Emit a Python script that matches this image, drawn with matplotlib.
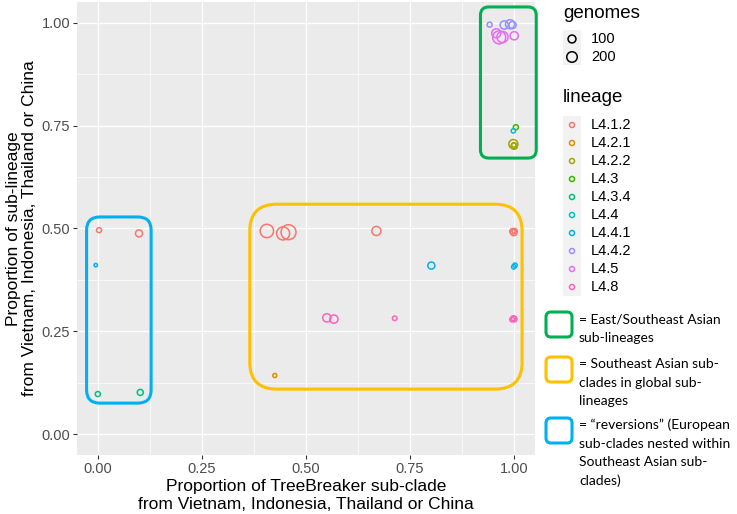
import numpy as np
import matplotlib
matplotlib.use("Agg")
import matplotlib.pyplot as plt
from matplotlib.patches import FancyBboxPatch, Rectangle

plt.rcParams['font.family'] = ['Liberation Sans', 'DejaVu Sans']

# data
lineage = ["L4.1.2"] * 9 + ["L4.2.1"] + ["L4.2.2"] * 3 + ["L4.3"] + ["L4.3.4"] * 2 + \
          ["L4.4"] + ["L4.4.1"] * 4 + ["L4.4.2"] * 4 + ["L4.5"] * 4 + ["L4.8"] * 6
prop_clade = [0.003, 0.099, 0.406, 0.445, 0.458, 0.669, 0.996, 0.999, 1.001,
              0.425,
              0.998, 1.000, 0.999,
              1.004,
              0.000, 0.102,
              0.998,
              -0.005, 0.801, 1.002, 0.999,
              0.941, 0.976, 0.990, 0.996,
              0.964, 0.972, 0.957, 1.000,
              0.550, 0.567, 0.713, 0.998, 1.000, 0.995]
prop_lineage = [0.496, 0.488, 0.494, 0.488, 0.491, 0.494, 0.493, 0.490, 0.494,
                0.143,
                0.705, 0.700, 0.703,
                0.746,
                0.098, 0.102,
                0.737,
                0.411, 0.410, 0.411, 0.407,
                0.995, 0.994, 0.996, 0.994,
                0.964, 0.965, 0.974, 0.968,
                0.283, 0.280, 0.282, 0.282, 0.280, 0.279]
genomes = [30, 75, 350, 330, 450, 140, 40, 55, 30,
           15,
           140, 55, 20,
           30,
           30, 50,
           18,
           8, 75, 18, 20,
           30, 110, 140, 80,
           330, 230, 140, 110,
           110, 110, 22, 30, 40, 25]

lineage_levels = ["L4.1.2", "L4.2.1", "L4.2.2", "L4.3", "L4.3.4",
                  "L4.4", "L4.4.1", "L4.4.2", "L4.5", "L4.8"]
lineage_colors = ["#F8766D", "#D89000", "#A3A500", "#39B600", "#00BF7D",
                  "#00BFC4", "#00B0F6", "#9590FF", "#E76BF3", "#FF62BC"]
size_breaks = [100, 200]
ticks = [0.00, 0.25, 0.50, 0.75, 1.00]
tick_labels = ["0.00", "0.25", "0.50", "0.75", "1.00"]

W, H = 737, 514
DPI = 100


def marker_s(v):
    d_px = 1.6 + 0.63 * np.sqrt(np.asarray(v, dtype=float))
    return (d_px * 72 / DPI) ** 2


fig = plt.figure(figsize=(W / DPI, H / DPI), dpi=DPI)
fig.patch.set_facecolor("white")

# main panel
ax = fig.add_axes([77 / W, 1 - 455 / H, (535 - 77) / W, (455 - 2) / H])
ax.set_facecolor("#EBEBEB")
ax.set_xlim(-0.05, 1.05)
ax.set_ylim(-0.05, 1.05)
ax.set_xticks(ticks)
ax.set_xticklabels(tick_labels)
ax.set_yticks(ticks)
ax.set_yticklabels(tick_labels)
ax.set_xticks([0.125, 0.375, 0.625, 0.875], minor=True)
ax.set_yticks([0.125, 0.375, 0.625, 0.875], minor=True)
ax.grid(which="major", color="white", linewidth=1.0)
ax.grid(which="minor", color="white", linewidth=0.5)
ax.set_axisbelow(True)
for sp in ax.spines.values():
    sp.set_visible(False)
ax.tick_params(which="major", length=3, width=0.8, color="#333333",
               labelsize=10.5, labelcolor="#4D4D4D", pad=2)
ax.tick_params(which="minor", length=0)

cmap = dict(zip(lineage_levels, lineage_colors))
cols = [cmap[l] for l in lineage]
ax.scatter(prop_clade, prop_lineage, s=marker_s(genomes), facecolors="none",
           edgecolors=cols, linewidths=1.1, zorder=3)

ax.set_xlabel("Proportion of TreeBreaker sub-clade\nfrom Vietnam, Indonesia, Thailand or China",
              fontsize=12.5, color="black", labelpad=2, linespacing=1.25)
ax.set_ylabel("Proportion of sub-lineage\nfrom Vietnam, Indonesia, Thailand or China",
              fontsize=12.5, color="black", labelpad=3, linespacing=1.12)

# highlight boxes over the panel (data coords)
boxes = [((0.919, 0.671), (1.053, 1.038), 0.02, "#00B050"),
         ((0.365, 0.110), (1.019, 0.559), 0.065, "#FFC000"),
         ((-0.027, 0.076), (0.128, 0.528), 0.032, "#00B0F0")]
for (x0, y0), (x1, y1), r, c in boxes:
    ax.add_patch(FancyBboxPatch((x0, y0), x1 - x0, y1 - y0,
                                boxstyle="round,pad=0,rounding_size=%s" % r,
                                facecolor="none", edgecolor=c, linewidth=2.2,
                                clip_on=False, zorder=4))

# overlay in pixel coords for legends
ov = fig.add_axes([0, 0, 1, 1])
ov.set_xlim(0, W)
ov.set_ylim(H, 0)
ov.axis("off")
ov.patch.set_alpha(0)

ov.text(563, 14, "genomes", fontsize=13.5, va="center", ha="left")
ov.add_patch(Rectangle((563, 30), 18, 35, facecolor="#F2F2F2", edgecolor="none"))
for yy, b in zip([39, 57], size_breaks):
    ov.scatter([572], [yy], s=marker_s(b), facecolors="none", edgecolors="black", linewidths=1.1)
    ov.text(591, yy, str(b), fontsize=10.5, va="center", ha="left")

ov.text(563, 97, "lineage", fontsize=13.5, va="center", ha="left")
ov.add_patch(Rectangle((563, 116), 18, 180, facecolor="#F2F2F2", edgecolor="none"))
for i, (lab, c) in enumerate(zip(lineage_levels, lineage_colors)):
    yy = 125 + 18 * i
    ov.scatter([572], [yy], s=(5 * 72 / DPI) ** 2, facecolors="none", edgecolors=c, linewidths=1.1)
    ov.text(591, yy, lab, fontsize=10.5, va="center", ha="left")

key_boxes = [(312, "#00B050", ["= East/Southeast Asian", "sub-lineages"]),
             (357, "#FFC000", ["= Southeast Asian sub-", "clades in global sub-", "lineages"]),
             (418, "#00B0F0", ["= \u201creversions\u201d (European", "sub-clades nested within",
                               "Southeast Asian sub-", "clades)"])]
for y0, c, lines in key_boxes:
    ov.add_patch(FancyBboxPatch((546, y0), 26, 25, boxstyle="round,pad=0,rounding_size=5",
                                facecolor="none", edgecolor=c, linewidth=2.2))
    for j, t in enumerate(lines):
        ov.text(579, y0 + 7 + 18.7 * j, t, fontsize=10, va="center", ha="left",
                family=["Lato", "DejaVu Sans"])

fig.savefig("out.png", dpi=DPI)
